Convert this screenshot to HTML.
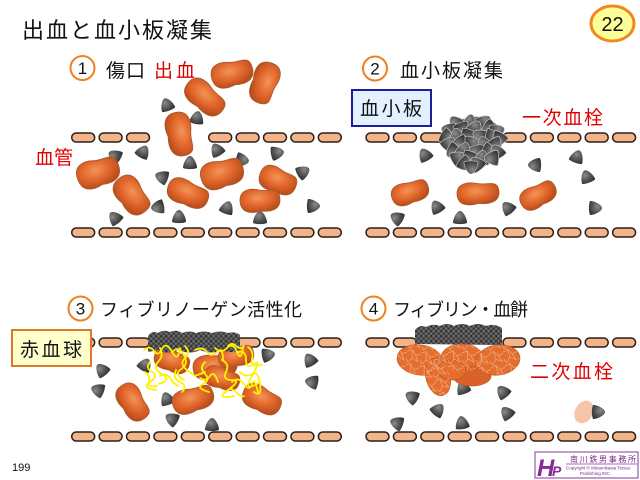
<!DOCTYPE html>
<html><head><meta charset="utf-8"><style>
html,body{margin:0;padding:0;background:#fff;}
svg{display:block;}
</style></head><body>
<svg width="640" height="480" viewBox="0 0 640 480" xmlns="http://www.w3.org/2000/svg">
<defs>
<radialGradient id="rbc" cx="45%" cy="40%" r="60%">
<stop offset="0" stop-color="#F39458"/><stop offset="0.55" stop-color="#E2682C"/><stop offset="1" stop-color="#BC4E1C"/>
</radialGradient>
<radialGradient id="plt" cx="40%" cy="35%" r="70%">
<stop offset="0" stop-color="#8a8a8a"/><stop offset="0.5" stop-color="#5c5c5c"/><stop offset="1" stop-color="#343434"/>
</radialGradient>
<path id="p" d="M-7,5 C-7,0 -3,-7 0,-7 C3,-7 7,0 7,5 C3,6.5 -3,6.5 -7,5Z" fill="url(#plt)"/>
<path id="pc" d="M-7,5 C-7,0 -3,-7 0,-7 C3,-7 7,0 7,5 C3,6.5 -3,6.5 -7,5Z" fill="url(#plt)" stroke="#c8c8c8" stroke-width="0.6"/>
<path id="bean" d="M-20,0 C-20,-12 -9,-13 0,-10 C9,-7 20,-13 20,0 C20,12 9,13 0,11 C-9,13 -20,12 -20,0Z" fill="url(#rbc)" stroke="#A8582C" stroke-width="0.8"/>
<rect id="pill" width="23" height="9" rx="4.5" fill="#F2B48A" stroke="#2d1f16" stroke-width="1.5"/>
<pattern id="grain" width="5" height="5" patternUnits="userSpaceOnUse">
<rect width="5" height="5" fill="#555"/>
<circle cx="1.2" cy="1.2" r="1.2" fill="#333"/><circle cx="3.7" cy="3.7" r="1.2" fill="#3a3a3a"/>
<circle cx="3.6" cy="1" r="0.7" fill="#8c8c8c"/><circle cx="1" cy="3.6" r="0.7" fill="#808080"/>
</pattern>
<pattern id="net" width="14" height="14" patternUnits="userSpaceOnUse">
<path d="M0,3 L5,1 L9,6 L14,4 M5,1 L6,9 L2,14 M9,6 L12,12 L6,9 M0,10 L2,14" stroke="#FAD2B4" stroke-width="0.6" fill="none" opacity="0.7"/>
</pattern>
</defs>

<!-- Title -->
<text x="22" y="38" font-family="Liberation Sans, Noto Sans CJK JP, sans-serif" font-size="22" textLength="190" lengthAdjust="spacing" fill="#111">出血と血小板凝集</text>

<!-- Badge -->
<ellipse cx="612.5" cy="23.5" rx="21.5" ry="17.5" fill="#FFFF99" stroke="#F08A1E" stroke-width="3"/>
<text x="612.5" y="31" text-anchor="middle" font-family="Liberation Sans, sans-serif" font-size="20" fill="#111">22</text>

<!-- Panel labels -->
<g font-family="Liberation Sans, sans-serif" font-size="17" text-anchor="middle" fill="#111">
<circle cx="82.5" cy="68" r="12" fill="#fff" stroke="#F0801E" stroke-width="2"/><text x="82.5" y="74">1</text>
<circle cx="375" cy="68.5" r="12" fill="#fff" stroke="#F0801E" stroke-width="2"/><text x="375" y="74.5">2</text>
<circle cx="80.5" cy="308.5" r="12" fill="#fff" stroke="#F0801E" stroke-width="2"/><text x="80.5" y="314.5">3</text>
<circle cx="373.5" cy="308.5" r="12" fill="#fff" stroke="#F0801E" stroke-width="2"/><text x="373.5" y="314.5">4</text>
</g>
<g font-family="Liberation Sans, Noto Sans CJK JP, sans-serif" font-size="19">
<text x="106" y="77" textLength="39" lengthAdjust="spacing" fill="#111">傷口</text>
<text x="154" y="77" textLength="41" lengthAdjust="spacing" fill="#E00000">出血</text>
<text x="400" y="77" textLength="103" lengthAdjust="spacing" fill="#111">血小板凝集</text>
<text x="522" y="124" textLength="81" lengthAdjust="spacing" fill="#E00000">一次血栓</text>
<text x="35" y="164" textLength="38" lengthAdjust="spacing" fill="#E00000">血管</text>
<text x="100" y="316" font-size="18" textLength="202" lengthAdjust="spacing" fill="#111">フィブリノーゲン活性化</text>
<text x="393" y="316" font-size="18" textLength="135" lengthAdjust="spacing" fill="#111">フィブリン・血餅</text>
<text x="530" y="378" textLength="83" lengthAdjust="spacing" fill="#E00000">二次血栓</text>
</g>

<!-- 血小板 box -->
<rect x="352" y="90" width="79" height="36" fill="#E2F0FF" stroke="#1c1ca0" stroke-width="2"/>
<text x="360" y="115" font-family="Liberation Sans, Noto Sans CJK JP, sans-serif" font-size="19" textLength="62" lengthAdjust="spacing" fill="#111">血小板</text>

<!-- Walls -->
<g>
<use href="#pill" x="71.7" y="133"/><use href="#pill" x="99.1" y="133"/><use href="#pill" x="126.5" y="133"/>
<use href="#pill" x="208.7" y="133"/><use href="#pill" x="236.1" y="133"/><use href="#pill" x="263.5" y="133"/><use href="#pill" x="290.9" y="133"/><use href="#pill" x="318.3" y="133"/>
<use href="#pill" x="71.7" y="228"/><use href="#pill" x="99.1" y="228"/><use href="#pill" x="126.5" y="228"/><use href="#pill" x="153.9" y="228"/><use href="#pill" x="181.3" y="228"/><use href="#pill" x="208.7" y="228"/><use href="#pill" x="236.1" y="228"/><use href="#pill" x="263.5" y="228"/><use href="#pill" x="290.9" y="228"/><use href="#pill" x="318.3" y="228"/>
<use href="#pill" x="366" y="133"/><use href="#pill" x="393.4" y="133"/><use href="#pill" x="420.8" y="133"/>
<use href="#pill" x="503" y="133"/><use href="#pill" x="530.4" y="133"/><use href="#pill" x="557.8" y="133"/><use href="#pill" x="585.2" y="133"/><use href="#pill" x="612.6" y="133"/>
<use href="#pill" x="366" y="228"/><use href="#pill" x="393.4" y="228"/><use href="#pill" x="420.8" y="228"/><use href="#pill" x="448.2" y="228"/><use href="#pill" x="475.6" y="228"/><use href="#pill" x="503" y="228"/><use href="#pill" x="530.4" y="228"/><use href="#pill" x="557.8" y="228"/><use href="#pill" x="585.2" y="228"/><use href="#pill" x="612.6" y="228"/>
<use href="#pill" x="71.7" y="338"/><use href="#pill" x="99.1" y="338"/><use href="#pill" x="126.5" y="338"/>
<use href="#pill" x="237" y="338"/><use href="#pill" x="263.5" y="338"/><use href="#pill" x="290.9" y="338"/><use href="#pill" x="318.3" y="338"/>
<use href="#pill" x="71.7" y="432"/><use href="#pill" x="99.1" y="432"/><use href="#pill" x="126.5" y="432"/><use href="#pill" x="153.9" y="432"/><use href="#pill" x="181.3" y="432"/><use href="#pill" x="208.7" y="432"/><use href="#pill" x="236.1" y="432"/><use href="#pill" x="263.5" y="432"/><use href="#pill" x="290.9" y="432"/><use href="#pill" x="318.3" y="432"/>
<use href="#pill" x="366" y="338"/><use href="#pill" x="393.4" y="338"/>
<use href="#pill" x="503" y="338"/><use href="#pill" x="530.4" y="338"/><use href="#pill" x="557.8" y="338"/><use href="#pill" x="585.2" y="338"/><use href="#pill" x="612.6" y="338"/>
<use href="#pill" x="366" y="432"/><use href="#pill" x="393.4" y="432"/><use href="#pill" x="420.8" y="432"/><use href="#pill" x="448.2" y="432"/><use href="#pill" x="475.6" y="432"/><use href="#pill" x="503" y="432"/><use href="#pill" x="530.4" y="432"/><use href="#pill" x="557.8" y="432"/><use href="#pill" x="585.2" y="432"/><use href="#pill" x="612.6" y="432"/>
</g>

<!-- Panel 1 platelets -->
<g>
<use href="#p" transform="translate(167,105) rotate(-20)"/>
<use href="#p" transform="translate(197,118) rotate(10)"/>
<use href="#p" transform="translate(143,152) rotate(30)"/>
<use href="#p" transform="translate(115,156) rotate(-60)"/>
<use href="#p" transform="translate(190,163) rotate(0)"/>
<use href="#p" transform="translate(217,150) rotate(-30)"/>
<use href="#p" transform="translate(242,160) rotate(100)"/>
<use href="#p" transform="translate(277,153) rotate(80)"/>
<use href="#p" transform="translate(303,172) rotate(60)"/>
<use href="#p" transform="translate(162,177) rotate(-70)"/>
<use href="#p" transform="translate(158,207) rotate(-100)"/>
<use href="#p" transform="translate(115,218) rotate(-40)"/>
<use href="#p" transform="translate(179,217) rotate(0)"/>
<use href="#p" transform="translate(227,208) rotate(20)"/>
<use href="#p" transform="translate(260,218) rotate(0)"/>
<use href="#p" transform="translate(313,206) rotate(90)"/>
</g>
<!-- Panel 1 RBCs -->
<g>
<use href="#bean" transform="translate(232,73) rotate(-15) scale(1.05,1.1)"/>
<use href="#bean" transform="translate(265,83) rotate(107) scale(1.05,1.1)"/>
<use href="#bean" transform="translate(205,97) rotate(39) scale(1.1,1.1)"/>
<use href="#bean" transform="translate(180,134) rotate(77) scale(1.1,1.1)"/>
<use href="#bean" transform="translate(98,172) rotate(-20) scale(1.08,1.2)"/>
<use href="#bean" transform="translate(132,195) rotate(51) scale(1.05,1.15)"/>
<use href="#bean" transform="translate(188,193) rotate(20) scale(1.05,1.05)"/>
<use href="#bean" transform="translate(222,173) rotate(-18) scale(1.08,1.2)"/>
<use href="#bean" transform="translate(278,180) rotate(20) scale(0.95,1.05)"/>
<use href="#bean" transform="translate(260,200) rotate(-5) scale(1.0,1.0)"/>
</g>

<!-- Panel 2 -->
<g>
<use href="#p" transform="translate(425,155) rotate(-30)"/>
<use href="#p" transform="translate(535,165) rotate(-90)"/>
<use href="#p" transform="translate(577,157) rotate(20)"/>
<use href="#p" transform="translate(587,177) rotate(-20)"/>
<use href="#p" transform="translate(437,207) rotate(-30)"/>
<use href="#p" transform="translate(508,208) rotate(-40)"/>
<use href="#p" transform="translate(595,208) rotate(90)"/>
<use href="#p" transform="translate(397,218) rotate(-60)"/>
<use href="#p" transform="translate(460,218) rotate(0)"/>
<use href="#bean" transform="translate(410,192) rotate(-20) scale(0.95,0.95)"/>
<use href="#bean" transform="translate(478,193) rotate(-5) scale(1.05,0.95)"/>
<use href="#bean" transform="translate(538,195) rotate(-30) scale(0.95,0.95)"/>
</g>
<!-- Panel 2 cluster -->
<g>
<path d="M446,130 Q452,118 466,119 Q478,114 490,120 Q502,126 502,138 Q503,150 495,158 Q486,168 472,170 Q458,166 452,156 Q442,146 446,130Z" fill="#5a5a5a"/>
<use href="#pc" transform="translate(470,122) rotate(10) scale(1.1)"/>
<use href="#pc" transform="translate(456,123) rotate(-40) scale(1.1)"/>
<use href="#pc" transform="translate(484,122) rotate(50) scale(1.1)"/>
<use href="#pc" transform="translate(449,130) rotate(-80) scale(1.1)"/>
<use href="#pc" transform="translate(462,129) rotate(160) scale(1.1)"/>
<use href="#pc" transform="translate(475,128) rotate(30) scale(1.1)"/>
<use href="#pc" transform="translate(489,128) rotate(-120) scale(1.1)"/>
<use href="#pc" transform="translate(497,131) rotate(70) scale(1.1)"/>
<use href="#pc" transform="translate(447,137) rotate(120) scale(1.1)"/>
<use href="#pc" transform="translate(457,136) rotate(-10) scale(1.1)"/>
<use href="#pc" transform="translate(468,136) rotate(200) scale(1.1)"/>
<use href="#pc" transform="translate(480,136) rotate(-60) scale(1.1)"/>
<use href="#pc" transform="translate(492,137) rotate(100) scale(1.1)"/>
<use href="#pc" transform="translate(499,139) rotate(-150) scale(1.1)"/>
<use href="#pc" transform="translate(449,144) rotate(40) scale(1.1)"/>
<use href="#pc" transform="translate(460,143) rotate(-100) scale(1.1)"/>
<use href="#pc" transform="translate(472,143) rotate(80) scale(1.1)"/>
<use href="#pc" transform="translate(484,144) rotate(-20) scale(1.1)"/>
<use href="#pc" transform="translate(495,145) rotate(150) scale(1.1)"/>
<use href="#pc" transform="translate(453,151) rotate(-130) scale(1.1)"/>
<use href="#pc" transform="translate(464,150) rotate(20) scale(1.1)"/>
<use href="#pc" transform="translate(477,151) rotate(-70) scale(1.1)"/>
<use href="#pc" transform="translate(489,151) rotate(110) scale(1.1)"/>
<use href="#pc" transform="translate(497,152) rotate(-30) scale(1.1)"/>
<use href="#pc" transform="translate(458,158) rotate(60) scale(1.1)"/>
<use href="#pc" transform="translate(470,158) rotate(-160) scale(1.1)"/>
<use href="#pc" transform="translate(482,158) rotate(10) scale(1.1)"/>
<use href="#pc" transform="translate(492,158) rotate(-90) scale(1.1)"/>
<use href="#pc" transform="translate(465,164) rotate(130) scale(1.1)"/>
<use href="#pc" transform="translate(477,164) rotate(-40) scale(1.1)"/>
<use href="#pc" transform="translate(471,167) rotate(180) scale(1.0)"/>
</g>

<!-- Panel 3 -->
<g>
<use href="#p" transform="translate(102,370) rotate(-40)"/>
<use href="#p" transform="translate(98,390) rotate(-70)"/>
<use href="#p" transform="translate(145,365) rotate(30)"/>
<use href="#p" transform="translate(167,399) rotate(-20)"/>
<use href="#p" transform="translate(172,419) rotate(-60)"/>
<use href="#p" transform="translate(212,425) rotate(0)"/>
<use href="#p" transform="translate(268,355) rotate(80)"/>
<use href="#p" transform="translate(310,360) rotate(-30)"/>
<use href="#p" transform="translate(312,382) rotate(-80)"/>
<use href="#bean" transform="translate(133,402) rotate(55) scale(1.0,1.05)"/>
<use href="#bean" transform="translate(193,399) rotate(-20) scale(1.05,1.05)"/>
<use href="#bean" transform="translate(262,399) rotate(25) scale(1.0,1.05)"/>
<use href="#bean" transform="translate(172,360) rotate(20) scale(0.9,0.95)"/>
<use href="#bean" transform="translate(215,366) rotate(-10) scale(1.1,1.05)"/>
<use href="#bean" transform="translate(236,356) rotate(-15) scale(0.9,0.9)"/>
<use href="#bean" transform="translate(222,378) rotate(15) scale(0.9,0.9)"/>
<path d="M148,352 L148,336 Q152,330 158,333 Q164,329 170,332 Q176,329 182,333 Q190,330 196,333 Q204,330 212,333 Q220,330 228,333 Q235,331 240,335 L240,350 Q232,354 222,350 Q212,355 200,350 Q190,355 178,350 Q166,355 158,350 Z" fill="url(#grain)"/>
<g stroke="#FFF200" stroke-width="1.8" fill="none" stroke-linecap="round">
<path d="M144,350 q6,-5 10,1 t8,-2 t10,3 t8,-4"/>
<path d="M150,362 q-5,6 2,10 t-2,10 t6,8"/>
<path d="M160,348 q4,8 -2,14 t4,12 t-3,10"/>
<path d="M172,352 q6,-6 10,0 t4,10 t-6,8 t4,10"/>
<path d="M185,346 q6,6 0,12 t2,12 t8,6 t10,-4"/>
<path d="M195,350 q8,-4 12,2 t10,0 t6,8"/>
<path d="M205,362 q-6,6 0,12 t-2,10 t6,8"/>
<path d="M215,348 q6,6 12,0 t10,4 t6,-4"/>
<path d="M222,360 q8,4 4,12 t6,8 t-4,10 t6,6"/>
<path d="M238,352 q8,-2 8,8 t8,4 t-2,12 t8,6"/>
<path d="M240,372 q6,6 12,2 t8,10 t-6,8"/>
<path d="M248,347 q6,4 4,12 t10,6"/>
<path d="M232,382 q6,-6 12,2 t8,0 t6,8"/>
<path d="M160,376 q6,-4 10,2 t8,8"/>
<path d="M176,370 q-4,8 4,12 t2,10"/>
<path d="M200,378 q6,4 10,-2 t8,6"/>
<path d="M226,392 q4,-6 10,0 t8,4"/>
<path d="M145,372 q6,4 4,10 t8,4"/>
<path d="M228,346 q4,-4 8,0 t8,0"/>
</g>
</g>

<!-- 赤血球 box -->
<rect x="12" y="330" width="79" height="36" fill="#FFFFCC" stroke="#E07828" stroke-width="2"/>
<text x="20" y="356" font-family="Liberation Sans, Noto Sans CJK JP, sans-serif" font-size="19" textLength="62" lengthAdjust="spacing" fill="#111">赤血球</text>

<!-- Panel 4 -->
<g>
<use href="#p" transform="translate(463,388) rotate(-20)"/>
<use href="#p" transform="translate(503,392) rotate(-40)"/>
<use href="#p" transform="translate(412,397) rotate(-60)"/>
<use href="#p" transform="translate(438,410) rotate(40)"/>
<use href="#p" transform="translate(507,413) rotate(-40)"/>
<use href="#p" transform="translate(397,423) rotate(-70)"/>
<use href="#p" transform="translate(462,423) rotate(-10)"/>
<ellipse cx="584" cy="412" rx="9" ry="12" transform="rotate(30 584 412)" fill="#F3B08C" opacity="0.75"/>
<use href="#p" transform="translate(598,412) rotate(90)"/>
<path d="M415,344 L415,330 Q420,324 426,327 Q433,323 440,326 Q447,322 454,326 Q462,322 470,326 Q478,322 486,326 Q494,323 502,328 L502,345 Z" fill="url(#grain)"/>
<g fill="#E46E30" stroke="#C8581E" stroke-width="0.8">
<ellipse cx="420" cy="360" rx="23" ry="15" transform="rotate(8 420 360)"/>
<ellipse cx="438" cy="377" rx="12" ry="19" transform="rotate(-15 438 377)"/>
<ellipse cx="462" cy="358" rx="21" ry="14"/>
<ellipse cx="472" cy="376" rx="19" ry="10" fill="#D8622A"/>
<ellipse cx="498" cy="360" rx="22" ry="15" transform="rotate(-8 498 360)"/>
<ellipse cx="452" cy="370" rx="14" ry="10"/>
</g>
<g fill="url(#net)">
<ellipse cx="420" cy="360" rx="23" ry="15" transform="rotate(8 420 360)"/>
<ellipse cx="438" cy="377" rx="12" ry="19" transform="rotate(-15 438 377)"/>
<ellipse cx="462" cy="358" rx="21" ry="14"/>
<ellipse cx="498" cy="360" rx="22" ry="15" transform="rotate(-8 498 360)"/>
</g>
</g>

<!-- Page number -->
<text x="12" y="471" font-family="Liberation Sans, sans-serif" font-size="11" fill="#111">199</text>

<!-- Logo -->
<rect x="535" y="452" width="103" height="26" fill="#fff" stroke="#8a3a9a" stroke-width="1"/>
<text x="537" y="476" font-family="Liberation Sans, sans-serif" font-size="24" font-weight="bold" font-style="italic" fill="#8a2a98">H</text>
<text x="552" y="476" font-family="Liberation Sans, sans-serif" font-size="14" font-weight="bold" font-style="italic" fill="#8a2a98">P</text>
<text x="570" y="462" font-family="Liberation Sans, Noto Sans CJK JP, sans-serif" font-size="8" textLength="66" lengthAdjust="spacing" fill="#7a2a8a">南川鉄男事務所</text>
<line x1="566" y1="464" x2="637" y2="464" stroke="#8a3a9a" stroke-width="0.8"/>
<text x="566" y="469.5" font-family="Liberation Sans, sans-serif" font-size="4.5" fill="#7a2a8a">Copyright © Minamikawa Tetsuo</text>
<text x="580" y="475" font-family="Liberation Sans, sans-serif" font-size="4.5" fill="#7a2a8a">Publishing INC.</text>
</svg>
</body></html>
